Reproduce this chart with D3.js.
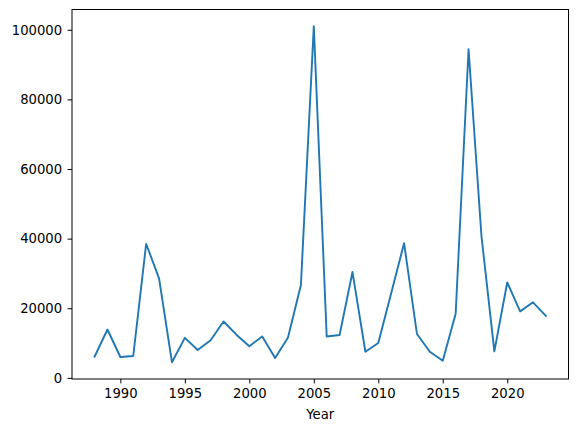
<!DOCTYPE html>
<html>
<head>
<meta charset="utf-8">
<script src="https://cdn.jsdelivr.net/npm/d3@7"></script>
<style>
  html, body { margin: 0; padding: 0; background: #fff; }
  svg { display: block; }
  text { font-family: "DejaVu Sans", sans-serif; fill: #000; }
</style>
</head>
<body>
<svg id="chart" width="578" height="432"></svg>
<script>
const years = [1988,1989,1990,1991,1992,1993,1994,1995,1996,1997,1998,1999,2000,2001,2002,2003,2004,2005,2006,2007,2008,2009,2010,2011,2012,2013,2014,2015,2016,2017,2018,2019,2020,2021,2022,2023];
const values = [6100,13900,6000,6300,38500,28600,4500,11500,8000,10800,16200,12400,9100,11900,5700,11600,26700,101000,11900,12300,30400,7500,10000,24300,38700,12600,7500,4900,18400,94400,40800,7600,27400,19100,21700,17800];
const xTicks = [1990,1995,2000,2005,2010,2015,2020];
const yTicks = [0,20000,40000,60000,80000,100000];
const xLabel = "Year";

const svg = d3.select("#chart");
const mLeft = 72, mRight = 568.5, mTop = 9.5, mBottom = 379;
const fontSize = "13.2px";

const xMin = d3.min(years), xMax = d3.max(years);
const xPad = (xMax - xMin) * 0.05;
const yMin = d3.min(values), yMax = d3.max(values);
const yPad = (yMax - yMin) * 0.05;

const x = d3.scaleLinear().domain([xMin - xPad, xMax + xPad]).range([mLeft, mRight]);
const y = d3.scaleLinear().domain([yMin - yPad, yMax + yPad]).range([mBottom, mTop]);

const data = years.map((yr, i) => ({ yr, v: values[i] }));

const line = d3.line().x(d => x(d.yr)).y(d => y(d.v));
svg.append("path")
  .datum(data)
  .attr("d", line)
  .attr("fill", "none")
  .attr("stroke", "#1f77b4")
  .attr("stroke-width", 1.9)
  .attr("stroke-linejoin", "round")
  .attr("stroke-linecap", "square");

svg.append("rect")
  .attr("x", mLeft).attr("y", mTop)
  .attr("width", mRight - mLeft).attr("height", mBottom - mTop)
  .attr("fill", "none").attr("stroke", "#000").attr("stroke-width", 1);

const xAxis = d3.axisBottom(x).tickValues(xTicks).tickFormat(d3.format("d"))
  .tickSize(4.4).tickPadding(5.5);
const gx = svg.append("g").attr("transform", `translate(0,${mBottom})`).call(xAxis);
gx.select(".domain").remove();
gx.selectAll("text").style("font-size", fontSize).style("font-family", "DejaVu Sans");
gx.selectAll("line").attr("stroke", "#000").attr("stroke-width", 1);

const yAxis = d3.axisLeft(y).tickValues(yTicks).tickFormat(d3.format("d"))
  .tickSize(4.4).tickPadding(5.5);
const gy = svg.append("g").attr("transform", `translate(${mLeft},0)`).call(yAxis);
gy.select(".domain").remove();
gy.selectAll("text").style("font-size", fontSize).style("font-family", "DejaVu Sans");
gy.selectAll("line").attr("stroke", "#000").attr("stroke-width", 1);

svg.append("text")
  .attr("x", (mLeft + mRight) / 2)
  .attr("y", 415)
  .attr("text-anchor", "middle")
  .attr("dominant-baseline", "middle")
  .style("font-size", fontSize)
  .text(xLabel);
</script>
</body>
</html>
